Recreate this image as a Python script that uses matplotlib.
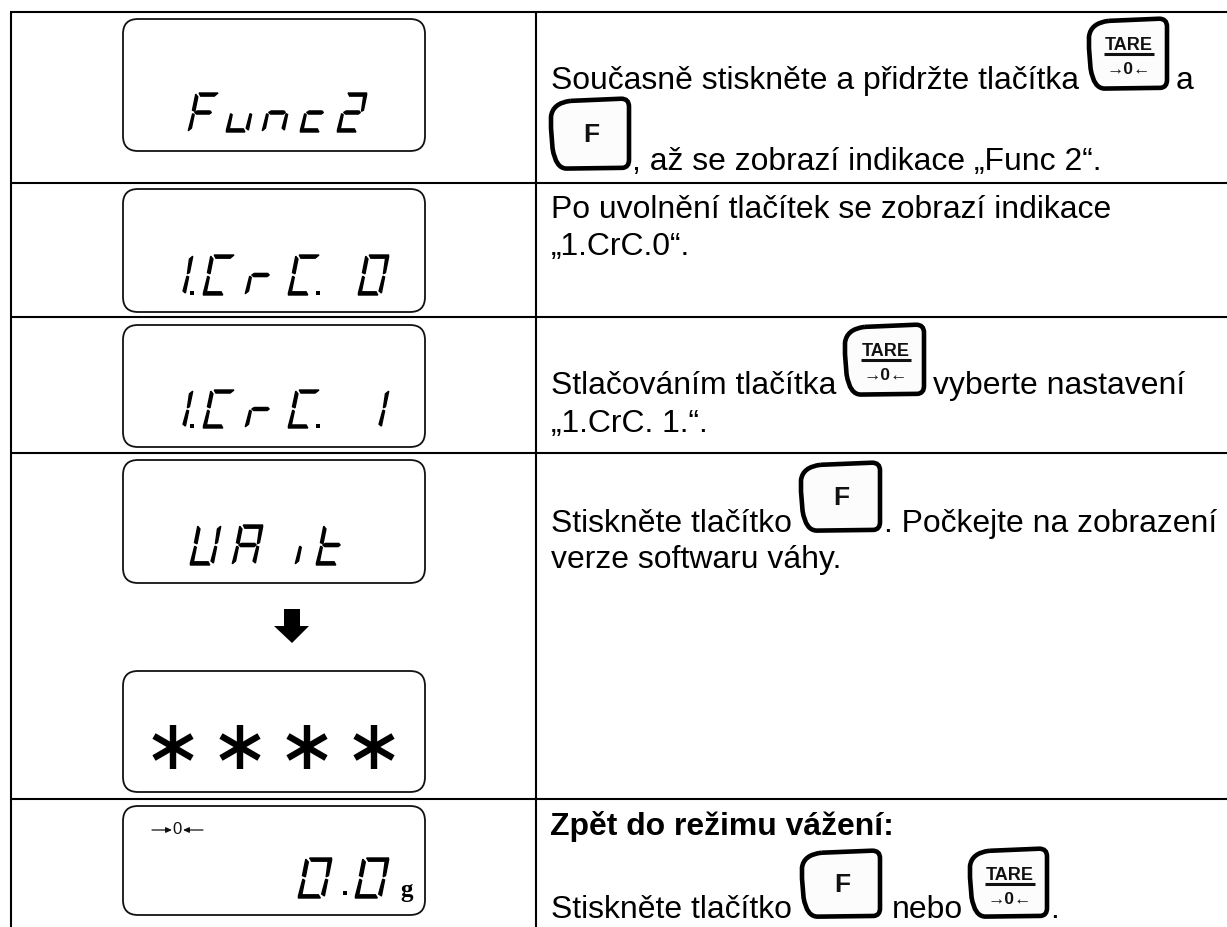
import matplotlib
import matplotlib.pyplot as plt
from matplotlib.patches import FancyBboxPatch, PathPatch, Polygon
from matplotlib.path import Path

matplotlib.use("Agg")

FONT = "Liberation Sans"
TEXT_SIZE = 22.95

# table grid
row_lines = [12, 183, 317, 453, 799]
col_lines = [11, 536]

# LCD boxes: left, top, right, bottom
lcd_boxes = [
    (123, 19, 425, 151),
    (123, 189, 425, 312),
    (123, 325, 425, 447),
    (123, 460, 425, 583),
    (123, 671, 425, 792),
    (123, 806, 425, 915),
]

# LCD readouts: glyphs, left edge of each glyph cell, top, bottom of the digits
lcd_glyphs = [
    ("Func2", [188, 226, 262, 300, 337], 93, 132, 22),
    ("1CrC0", [162, 203, 245, 288, 358], 255, 295, 23),
    ("1CrC1", [162, 203, 245, 288, 358], 390, 428, 23),
    ("UAit", [190, 232, 295, 316], 525, 565, 23),
    ("00", [298, 355], 858, 898, 26),
]
lcd_dots = [(192, 293), (318, 293), (192, 426), (318, 426), (345, 893)]

star_x = [173, 240, 307, 374]
star_y = 747

# instruction text: x, baseline, string, weight
instructions = [
    (551, 89, "Současně stiskněte a přidržte tlačítka", "normal"),
    (1176, 89, "a", "normal"),
    (632, 170, ", až se zobrazí indikace „Func 2“.", "normal"),
    (551, 218, "Po uvolnění tlačítek se zobrazí indikace", "normal"),
    (551, 255, "„1.CrC.0“.", "normal"),
    (551, 394, "Stlačováním tlačítka", "normal"),
    (933, 394, "vyberte nastavení", "normal"),
    (551, 432, "„1.CrC. 1.“.", "normal"),
    (551, 532, "Stiskněte tlačítko", "normal"),
    (884, 532, ". Počkejte na zobrazení", "normal"),
    (551, 568, "verze softwaru váhy.", "normal"),
    (550, 835, "Zpět do režimu vážení:", "bold"),
    (551, 918, "Stiskněte tlačítko", "normal"),
    (892, 918, "nebo", "normal"),
    (1050, 918, ".", "normal"),
]

# keys: left, top, right, bottom
f_keys = [(551, 98, 629, 170), (801, 462, 880, 532), (802, 850, 880, 918)]
tare_keys = [(1089, 18, 1167, 90), (845, 324, 924, 396), (970, 848, 1047, 918)]

# which segments are lit for each glyph
segments_for = {
    "F": "afge",
    "u": "cde",
    "n": "egc",
    "c": "ged",
    "2": "abged",
    "1": "bc",
    "C": "afed",
    "r": "eg",
    "0": "abcdef",
    "U": "bcdef",
    "A": "abcefg",
    "i": "e",
    "t": "fegd",
}

# segment outlines in a unit cell, u to the right and v up
segment_shapes = {
    "a": [(0.14, 1.0), (1.0, 1.0), (0.86, 0.92), (0.24, 0.92)],
    "b": [(1.0, 0.97), (1.0, 0.56), (0.92, 0.53), (0.88, 0.9)],
    "c": [(1.0, 0.45), (1.0, 0.05), (0.88, 0.1), (0.92, 0.47)],
    "d": [(0.0, 0.0), (0.86, 0.0), (0.76, 0.08), (0.14, 0.08)],
    "e": [(0.0, 0.03), (0.12, 0.1), (0.12, 0.44), (0.04, 0.47)],
    "f": [(0.0, 0.56), (0.12, 0.53), (0.12, 0.9), (0.0, 0.97)],
    "g": [(0.12, 0.5), (0.22, 0.54), (0.8, 0.54), (0.88, 0.5), (0.8, 0.46), (0.22, 0.46)],
}


def to_xy(x0, top, bottom, width, slant, u, v):
    return x0 + u * width + v * slant, bottom - v * (bottom - top)


def draw_glyph(ax, ch, x0, top, bottom, width):
    slant = 8
    for seg in segments_for[ch]:
        pts = [to_xy(x0, top, bottom, width, slant, u, v) for u, v in segment_shapes[seg]]
        # the outline fattens the thin segments
        ax.add_patch(Polygon(pts, closed=True, facecolor="black", edgecolor="black", lw=1.0))


def draw_key(ax, box, lw=3.3):
    x0, y0, x1, y1 = box
    w = x1 - x0
    h = y1 - y0

    def p(u, v):
        return (x0 + u * w, y0 + v * h)

    verts = [
        p(0.25, 0.04), p(0.9, 0.01), p(1.0, 0.01), p(1.0, 0.12),
        p(1.0, 0.86), p(1.0, 0.96), p(0.92, 0.97), p(0.2, 0.98),
        p(0.06, 0.98), p(0.02, 0.7), p(0.0, 0.42), p(0.0, 0.26),
        p(0.02, 0.07), p(0.25, 0.04),
    ]
    codes = [
        Path.MOVETO, Path.LINETO, Path.CURVE3, Path.CURVE3,
        Path.LINETO, Path.CURVE3, Path.CURVE3, Path.LINETO,
        Path.CURVE3, Path.CURVE3, Path.LINETO, Path.LINETO,
        Path.CURVE3, Path.CURVE3,
    ]
    ax.add_patch(PathPatch(Path(verts, codes), facecolor="#fcfcfc", edgecolor="black", lw=lw))


def main():
    fig = plt.figure(figsize=(12.27, 9.27), dpi=100, facecolor="white")
    ax = fig.add_axes([0, 0, 1, 1])
    ax.set_xlim(0, 1227)
    ax.set_ylim(927, 0)
    ax.axis("off")

    # table lines run off the right and bottom edges
    for y in row_lines:
        ax.plot([col_lines[0] - 1, 1227], [y, y], color="black", lw=1.5, solid_capstyle="butt")
    for x in col_lines:
        ax.plot([x, x], [row_lines[0], 927], color="black", lw=1.5, solid_capstyle="butt")

    for left, top, right, bottom in lcd_boxes:
        ax.add_patch(
            FancyBboxPatch(
                (left, top),
                right - left,
                bottom - top,
                boxstyle="round,pad=0,rounding_size=15",
                facecolor="white",
                edgecolor="#111111",
                lw=1.3,
            )
        )

    for chars, xs, top, bottom, width in lcd_glyphs:
        for ch, x in zip(chars, xs):
            draw_glyph(ax, ch, x, top, bottom, width)

    for x, y in lcd_dots:
        ax.add_patch(Polygon([(x - 2, y - 2), (x + 2, y - 2), (x + 2, y + 2), (x - 2, y + 2)], facecolor="black"))

    # down arrow between the two readouts
    ax.add_patch(
        Polygon(
            [(284, 609), (300, 609), (300, 626), (309, 626), (292, 643), (274, 626), (284, 626)],
            facecolor="black",
            edgecolor="none",
        )
    )

    # asterisks, three crossing bars
    for x in star_x:
        ax.plot([x, x], [star_y - 22, star_y + 22], color="black", lw=4.6, solid_capstyle="butt")
        ax.plot([x - 19, x + 19], [star_y - 11, star_y + 11], color="black", lw=4.6, solid_capstyle="butt")
        ax.plot([x - 19, x + 19], [star_y + 11, star_y - 11], color="black", lw=4.6, solid_capstyle="butt")

    # zero indicator in the last readout
    ax.text(177, 830, "0", family=FONT, fontsize=12, ha="center", va="center", color="#111111")
    arrow = dict(arrowstyle="-|>,head_length=0.35,head_width=0.16", color="#111111", lw=0.9, shrinkA=0, shrinkB=0)
    ax.annotate("", xy=(172, 830), xytext=(152, 830), arrowprops=arrow)
    ax.annotate("", xy=(183, 830), xytext=(203, 830), arrowprops=arrow)
    ax.text(400, 897, "g", family="Liberation Serif", fontsize=18, weight="bold", ha="left", va="baseline")

    for x, y, s, weight in instructions:
        ax.text(x, y, s, family=FONT, fontsize=TEXT_SIZE, weight=weight, ha="left", va="baseline", color="black")

    for box in f_keys:
        draw_key(ax, box)
        cx = (box[0] + box[2]) / 2 + 1
        cy = (box[1] + box[3]) / 2 + 1
        ax.text(cx, cy, "F", family=FONT, fontsize=19, weight="bold", ha="center", va="center", color="#111111")

    for box in tare_keys:
        draw_key(ax, box)
        cx = (box[0] + box[2]) / 2 + 1
        top = box[1]
        ax.text(cx, top + 32, "TARE", family=FONT, fontsize=13, weight="bold", ha="center", va="baseline", color="#111111")
        ax.plot([cx - 25, cx + 25], [top + 36, top + 36], color="#111111", lw=2.2, solid_capstyle="butt")
        ax.text(cx, top + 56, "→0←", family=FONT, fontsize=12.5, weight="bold", ha="center", va="baseline", color="#111111")

    fig.savefig("out.png", dpi=100, facecolor="white")
    plt.close(fig)


if __name__ == "__main__":
    main()
